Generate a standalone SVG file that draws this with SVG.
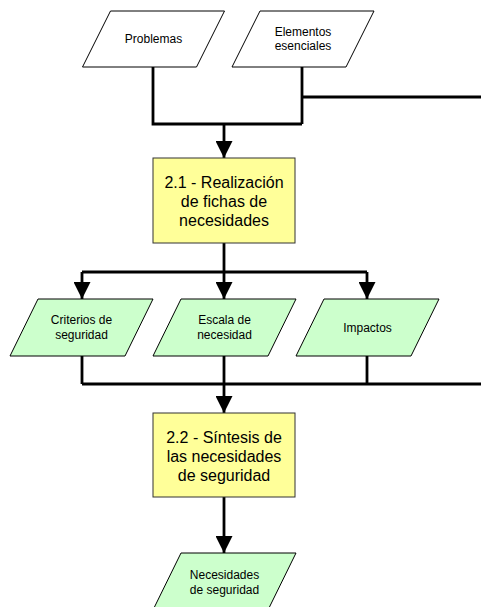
<svg xmlns="http://www.w3.org/2000/svg" width="481" height="607" viewBox="0 0 481 607">
  <style>
    .io { stroke: #000; stroke-width: 1; }
    .in { fill: #fff; }
    .out { fill: #ccffcc; }
    .proc { fill: #ffff99; stroke: #333; stroke-width: 1; }
    .small { font-family: "Liberation Sans", Arial, sans-serif; font-size: 12px; fill: #000; text-anchor: middle; }
    .big { font-family: "Liberation Sans", Arial, sans-serif; font-size: 16px; fill: #000; text-anchor: middle; }
    .wire { fill: none; stroke: #000; stroke-width: 2.8; }
  </style>
  <defs>
    <marker id="arrow" markerUnits="userSpaceOnUse" markerWidth="17" markerHeight="17" refX="17" refY="8.5" orient="auto">
      <path d="M0,0 L17,8.5 L0,17 z" fill="#000"/>
    </marker>
  </defs>

  <rect width="481" height="607" fill="#fff"/>

  <!-- connectors -->
  <g id="connectors" class="wire">
    <path d="M153,67 V124 H302"/>
    <path d="M302,67 V124"/>
    <path d="M302,97 H481"/>
    <path d="M224,124 V158" marker-end="url(#arrow)"/>
    <path d="M224,243 V272"/>
    <path d="M82,272 H367"/>
    <path d="M82,272 V299" marker-end="url(#arrow)"/>
    <path d="M224,272 V299" marker-end="url(#arrow)"/>
    <path d="M367,272 V299" marker-end="url(#arrow)"/>
    <path d="M82,356 V384"/>
    <path d="M224,356 V384"/>
    <path d="M367,356 V384"/>
    <path d="M82,384 H481"/>
    <path d="M224,384 V413" marker-end="url(#arrow)"/>
    <path d="M224,497 V553" marker-end="url(#arrow)"/>
  </g>

  <!-- inputs -->
  <g id="problemas">
    <polygon class="io in" points="110.5,11 224.5,11 196.5,67 82.5,67"/>
    <text class="small" x="153.5" y="43">Problemas</text>
  </g>
  <g id="elementos-esenciales">
    <polygon class="io in" points="260,11 374,11 346,67 232,67"/>
    <text class="small" x="303" y="36">Elementos</text>
    <text class="small" x="303" y="50">esenciales</text>
  </g>

  <!-- process 2.1 -->
  <g id="realizacion-fichas">
    <rect class="proc" x="153" y="158" width="142" height="85"/>
    <text class="big" x="224" y="187.5">2.1 - Realización</text>
    <text class="big" x="224" y="206.5">de fichas de</text>
    <text class="big" x="224" y="225.5">necesidades</text>
  </g>

  <!-- intermediate outputs -->
  <g id="criterios-seguridad">
    <polygon class="io out" points="38,299 153,299 125,356 10,356"/>
    <text class="small" x="81.5" y="324">Criterios de</text>
    <text class="small" x="81.5" y="339">seguridad</text>
  </g>
  <g id="escala-necesidad">
    <polygon class="io out" points="181,299 296,299 268,356 153,356"/>
    <text class="small" x="224.5" y="324">Escala de</text>
    <text class="small" x="224.5" y="339">necesidad</text>
  </g>
  <g id="impactos">
    <polygon class="io out" points="324,299 439,299 411,356 296,356"/>
    <text class="small" x="367.5" y="332">Impactos</text>
  </g>

  <!-- process 2.2 -->
  <g id="sintesis-necesidades">
    <rect class="proc" x="153" y="413" width="142" height="84"/>
    <text class="big" x="224" y="442.5">2.2 - Síntesis de</text>
    <text class="big" x="224" y="461.5">las necesidades</text>
    <text class="big" x="224" y="480.5">de seguridad</text>
  </g>

  <!-- final output -->
  <g id="necesidades-seguridad">
    <polygon class="io out" points="181,553 296,553 268,610 153,610"/>
    <text class="small" x="224.5" y="579">Necesidades</text>
    <text class="small" x="224.5" y="594">de seguridad</text>
  </g>
</svg>
